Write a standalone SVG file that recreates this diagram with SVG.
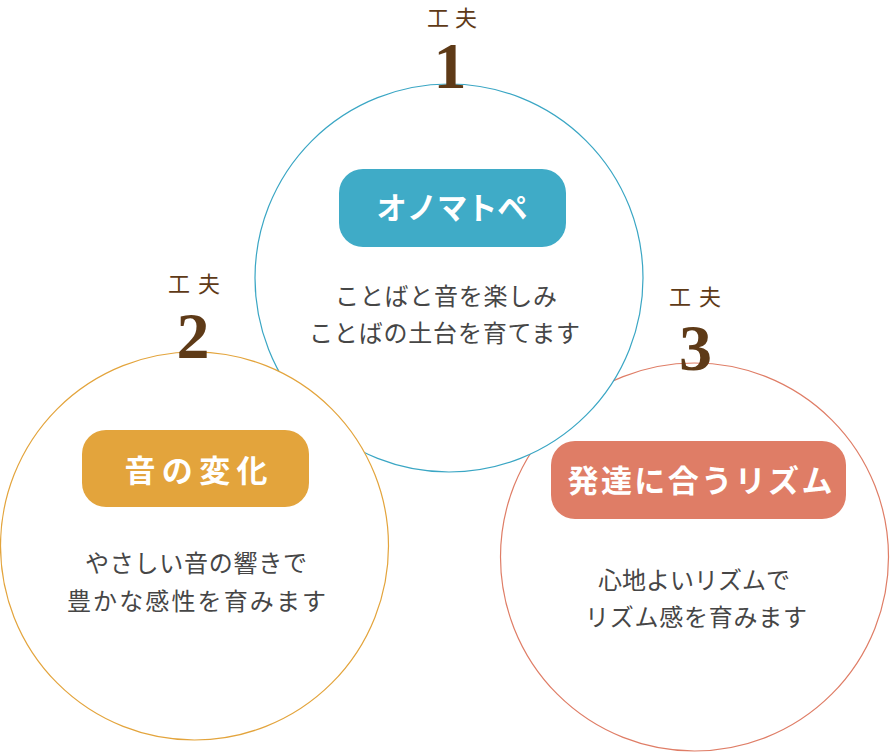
<svg xmlns="http://www.w3.org/2000/svg" width="890" height="752" viewBox="0 0 890 752">
<style>
.circ{fill:#fff;stroke-width:1.2}
.lbl{font-family:"Noto Sans CJK JP","Noto Sans",sans-serif;font-size:22px;fill:#5e3a17;text-anchor:middle}
.num{font-family:"Liberation Serif","DejaVu Serif",serif;font-weight:bold;font-size:66px;fill:#5e3a17;text-anchor:middle}
.pill-t{font-family:"Noto Sans CJK JP","Noto Sans",sans-serif;font-weight:bold;font-size:31px;fill:#fff;text-anchor:middle}
.body{font-family:"Noto Sans CJK JP","Noto Sans",sans-serif;font-size:24px;fill:#464646;text-anchor:middle}
</style>
<rect width="890" height="752" fill="#fff"/>
<g id="node3-circle">
<circle class="circ" cx="694.5" cy="557" r="194" stroke="#df7d66"/>
</g>
<g id="node1-circle">
<circle class="circ" cx="449" cy="278" r="194" stroke="#3aa6c4"/>
</g>
<g id="node2-circle">
<circle class="circ" cx="194.5" cy="546" r="194" stroke="#e3a43c"/>
</g>
<g id="connectors"></g>
<g id="node1">
<text class="lbl" x="452" y="25.5" textLength="50" lengthAdjust="spacing">工夫</text>
<text class="num" x="450" y="88">1</text>
<rect x="339" y="169" width="227" height="78" rx="24" fill="#3fabc7"/>
<text class="pill-t" x="452" y="219" textLength="151" lengthAdjust="spacingAndGlyphs">オノマトペ</text>
<text class="body" x="446" y="305" textLength="222" lengthAdjust="spacing">ことばと音を楽しみ</text>
<text class="body" x="444.5" y="342" textLength="271" lengthAdjust="spacing">ことばの土台を育てます</text>
</g>
<g id="node2">
<text class="lbl" x="194" y="292" textLength="52" lengthAdjust="spacing">工夫</text>
<text class="num" x="193" y="358">2</text>
<rect x="82" y="430" width="227" height="77" rx="24" fill="#e3a43c"/>
<text class="pill-t" x="196" y="482" textLength="143" lengthAdjust="spacing">音の変化</text>
<text class="body" x="196" y="572" textLength="222" lengthAdjust="spacing">やさしい音の響きで</text>
<text class="body" x="196.5" y="610" textLength="259" lengthAdjust="spacing">豊かな感性を育みます</text>
</g>
<g id="node3">
<text class="lbl" x="695" y="305" textLength="52" lengthAdjust="spacing">工夫</text>
<text class="num" x="695.5" y="370">3</text>
<rect x="551" y="441" width="295" height="78" rx="24" fill="#df7d66"/>
<text class="pill-t" x="700" y="492" textLength="265" lengthAdjust="spacing">発達に合うリズム</text>
<text class="body" x="694" y="589" textLength="192" lengthAdjust="spacing">心地よいリズムで</text>
<text class="body" x="696" y="626" textLength="222" lengthAdjust="spacing">リズム感を育みます</text>
</g>
</svg>
